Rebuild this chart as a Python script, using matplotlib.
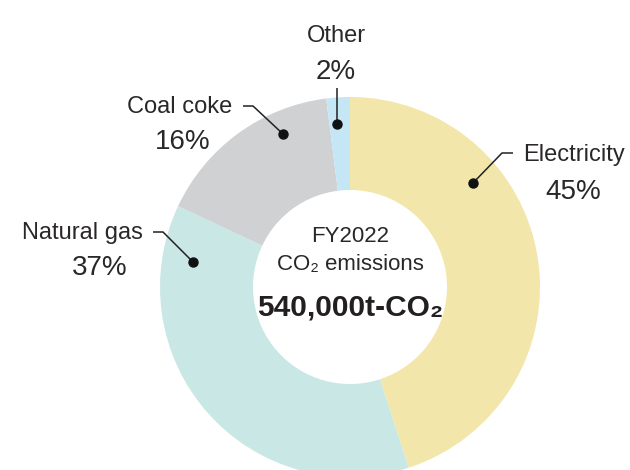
import matplotlib
matplotlib.use('Agg')
import matplotlib.pyplot as plt

plt.rcParams['font.family'] = ['Liberation Sans', 'DejaVu Sans']

# data
sources = ['Electricity', 'Natural gas', 'Coal coke', 'Other']
shares = [45, 37, 16, 2]
colors = ['#f2e6ab', '#c9e8e5', '#d0d1d3', '#c5e6f5']

# label placement (pixels from top-left): dot, elbow, line end, name pos, pct pos
dots = [(473, 183), (193, 262), (283, 134), (337, 124)]
elbows = [(502, 153), (163, 232), (253, 106), (337, 88)]
ends = [(513, 153), (153, 232), (243, 106), (337, 88)]
name_xy = [(523, 155, 'left'), (143, 233, 'right'), (232, 107, 'right'), (336, 36, 'center')]
pct_xy = [(573, 192), (100, 268), (183, 142), (336, 72)]

W, H = 630, 470
fig = plt.figure(figsize=(6.3, 4.7), dpi=100)
ax = fig.add_axes([0, 0, 1, 1])

cx, cy = 350, H - 287
ax.pie(shares, colors=colors, startangle=90, counterclock=False,
       center=(cx, cy), radius=190,
       wedgeprops=dict(width=93, linewidth=0))

ax.set_xlim(0, W)
ax.set_ylim(0, H)
ax.set_aspect('equal')
ax.axis('off')

for i in range(len(sources)):
    d, e, n = dots[i], elbows[i], ends[i]
    ax.plot([d[0], e[0], n[0]], [H - d[1], H - e[1], H - n[1]],
            color='#222222', lw=1.1, solid_capstyle='butt')
    ax.plot(d[0], H - d[1], 'o', color='#111111', ms=6.5)
    x, y, ha = name_xy[i]
    ax.text(x, H - y, sources[i], ha=ha, va='center', fontsize=17, color='#2a2728')
    px, py = pct_xy[i]
    ax.text(px, H - py, '%d%%' % shares[i], ha='center', va='center',
            fontsize=20, color='#2a2728')

ax.text(cx, H - 237, 'FY2022', ha='center', va='center', fontsize=16, color='#2a2728')
ax.text(cx, H - 265, 'CO\u2082 emissions', ha='center', va='center', fontsize=16, color='#2a2728')
ax.text(cx, H - 308, '540,000t-CO\u2082', ha='center', va='center', fontsize=21.5,
        fontweight='bold', color='#231f20')

fig.savefig('out.png', dpi=100)
